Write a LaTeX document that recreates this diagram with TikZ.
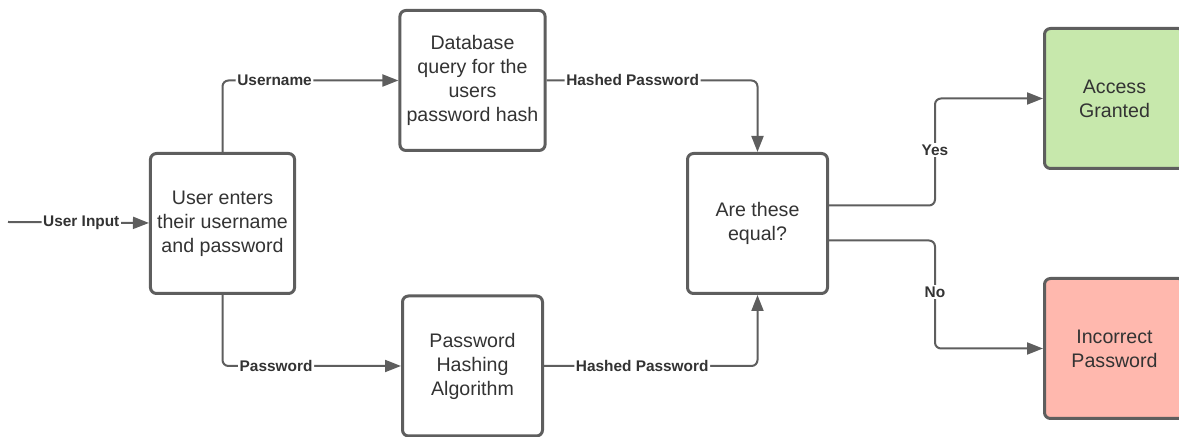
\documentclass[tikz,border=0pt]{standalone}
\usepackage{fontspec}
\setmainfont{Liberation Sans}
\usetikzlibrary{arrows.meta}

\definecolor{linegray}{HTML}{5E5E5E}
\definecolor{textgray}{HTML}{333333}
\definecolor{okgreen}{HTML}{C7E8AC}
\definecolor{badred}{HTML}{FFB8AE}

\tikzset{
  block/.style = {draw=linegray, line width=1.5pt, rounded corners=3pt, fill=white,
                  minimum width=70pt, minimum height=70pt, align=center,
                  text=textgray, font=\fontsize{9.8}{12}\selectfont},
  link/.style  = {draw=linegray, line width=1pt, rounded corners=3pt,
                  -{Triangle[length=8pt, width=6pt]}},
  lbl/.style   = {fill=white, inner sep=0.8pt, text=textgray,
                  font=\fontsize{7.7}{9}\selectfont\bfseries}
}

\begin{document}
\begin{tikzpicture}[x=0.5pt, y=-0.5pt]
    \useasboundingbox (0,0) rectangle (1179,437);

    \coordinate (in) at (8,222);
    \node [block] (user) at (222.5,223.5) {User enters\\their username\\and password};
    \node [block] (db) at (472.5,80.5) {Database\\query for the\\users\\password hash};
    \node [block] (hash) at (472.5,366) {Password\\Hashing\\Algorithm};
    \node [block] (eq) at (757.5,223.5) {Are these\\equal?};
    \node [block, fill=okgreen] (ok) at (1114.5,98.5) {Access\\Granted};
    \node [block, fill=badred] (bad) at (1114.5,348.5) {Incorrect\\Password};

    \draw [link] (in) -- node [lbl, pos=0.52] {User Input} (user);
    \draw [link] (user.north) |- node [lbl, pos=0.648] {Username} (db.west);
    \draw [link] (user.south) |- node [lbl, pos=0.65] {Password} (hash.west);
    \draw [link] (db.east) -| node [lbl, pos=0.204] {Hashed Password} (eq.north);
    \draw [link] (hash.east) -| node [lbl, pos=0.23] {Hashed Password} (eq.south);
    \draw [link] ([yshift=9pt]eq.east) -| (935,150) node [lbl] {Yes} |- (ok.west);
    \draw [link] ([yshift=-8.5pt]eq.east) -| (935,292) node [lbl] {No} |- (bad.west);
\end{tikzpicture}
\end{document}
